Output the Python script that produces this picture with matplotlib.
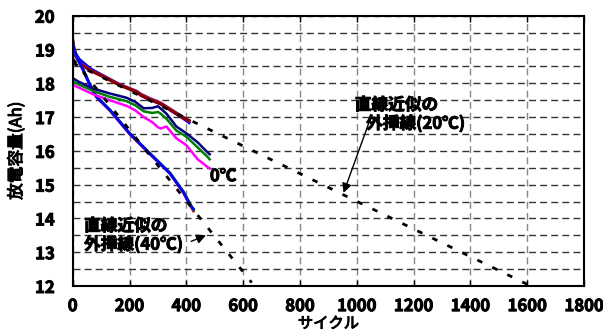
import matplotlib.pyplot as plt
import matplotlib.patheffects as pe
from matplotlib.ticker import MultipleLocator

plt.rcParams["font.family"] = ["Noto Sans CJK JP", "DejaVu Sans"]
plt.rcParams["font.weight"] = "bold"

# 20C group (four overlapping cells)
cyc20 = [0, 3, 10, 25, 60, 110, 165, 225, 240, 270, 310, 355, 385, 410]
cap20_purple = [19.25, 19.05, 18.85, 18.62, 18.42, 18.22, 17.97, 17.77, 17.68, 17.56, 17.42, 17.18, 17.02, 16.88]
cap20_blue = [19.15, 19.0, 18.88, 18.7, 18.45, 18.2, 17.95, 17.75, 17.64, 17.52, 17.38, 17.14, 16.98, 16.83]
cap20_red = [19.3, 19.05, 18.82, 18.6, 18.4, 18.19, 17.95, 17.75, 17.65, 17.53, 17.4, 17.16, 17.0, 16.88]
cap20_brown = [19.2, 19.0, 18.8, 18.58, 18.38, 18.18, 17.94, 17.74, 17.64, 17.52, 17.39, 17.15, 16.99, 16.9]

# 40C group
cyc40 = [0, 5, 15, 37, 61, 84, 132, 200, 272, 343, 390, 414, 425]
cap40_red = [19.3, 19.05, 18.75, 18.38, 17.93, 17.58, 17.18, 16.5, 15.9, 15.32, 14.75, 14.38, 14.22]
cap40_green = [19.2, 19.0, 18.76, 18.4, 17.95, 17.6, 17.2, 16.52, 15.92, 15.34, 14.78, 14.42, 14.25]
cap40_blue = [19.25, 19.0, 18.79, 18.39, 17.95, 17.6, 17.2, 16.52, 15.92, 15.33, 14.78, 14.39, 14.28]

# 0C group
cyc0 = [0, 20, 70, 130, 190, 220, 250, 280, 300, 310, 330, 365, 400, 440, 475, 482]
cap0_navy = [18.15, 18.05, 17.85, 17.7, 17.57, 17.45, 17.26, 17.27, 17.32, 17.25, 17.1, 16.72, 16.52, 16.25, 15.95, 15.9]
cap0_green = [18.05, 17.97, 17.78, 17.6, 17.47, 17.35, 17.17, 17.12, 17.15, 17.1, 16.95, 16.6, 16.42, 16.1, 15.82, 15.75]
cap0_magenta = [17.95, 17.88, 17.68, 17.5, 17.33, 17.2, 17.0, 16.85, 16.7, 16.66, 16.72, 16.37, 16.17, 15.75, 15.52, 15.48]

# linear-fit extrapolation lines
fit20_x = [0, 1600]
fit20_y = [18.6, 12.05]
fit40_x = [0, 630]
fit40_y = [18.72, 12.1]

bold = [pe.withStroke(linewidth=0.7, foreground="black")]

fig = plt.figure(figsize=(6.03, 3.34), dpi=100)
ax = fig.add_axes([0.1206, 0.1437, 0.848, 0.8093])

ax.plot(cyc20, cap20_purple, color="#800080", lw=2)
ax.plot(cyc20, cap20_blue, color="#0000ff", lw=2)
ax.plot(cyc20, cap20_red, color="#ff0000", lw=2)
ax.plot(cyc20, cap20_brown, color="#800000", lw=2)

ax.plot(cyc40, cap40_red, color="#ff0000", lw=2)
ax.plot(cyc40, cap40_green, color="#008000", lw=2)
ax.plot(cyc40, cap40_blue, color="#0000ff", lw=2)

ax.plot(cyc0, cap0_magenta, color="#ff00ff", lw=1.8)
ax.plot(cyc0, cap0_green, color="#008000", lw=1.8)
ax.plot(cyc0, cap0_navy, color="#000080", lw=1.8)

ax.plot(fit20_x, fit20_y, color="black", lw=2, ls=(0, (2, 4)), zorder=5)
ax.plot(fit40_x, fit40_y, color="black", lw=2, ls=(0, (2, 4)), zorder=5)

ax.set_xlim(0, 1800)
ax.set_ylim(12, 20)
ax.xaxis.set_major_locator(MultipleLocator(200))
ax.yaxis.set_major_locator(MultipleLocator(1))
ax.yaxis.set_minor_locator(MultipleLocator(0.5))

ax.grid(axis="y", which="both", color="#333333", ls=(0, (5, 3)), lw=1)
ax.grid(axis="x", which="major", color="#888888", ls=(0, (5, 3)), lw=1)
ax.tick_params(axis="both", which="both", direction="in", labelsize=12)
ax.tick_params(axis="y", which="both", length=0, pad=13)
ax.tick_params(axis="x", length=4, width=1, pad=8, top=True)
for lab in ax.get_xticklabels() + ax.get_yticklabels():
    lab.set_path_effects(bold)
for s in ax.spines.values():
    s.set_linewidth(1.5)

ax.set_xlabel("サイクル", fontsize=11, labelpad=0, path_effects=bold)
ax.set_ylabel("放電容量(Ah)", fontsize=12, labelpad=7, path_effects=bold)

ax.text(483, 15.25, "0℃", fontsize=12, va="center", ha="left", path_effects=bold)

ax.text(40, 13.5, "直線近似の\n外挿線(40℃)", fontsize=12,
        va="center", ha="left", linespacing=1.05, path_effects=bold)
ax.annotate("", xy=(478, 13.53), xytext=(408, 13.29),
            arrowprops=dict(arrowstyle="-|>", color="black", lw=1, mutation_scale=14))

ax.text(993, 17.08, "直線近似の\n   外挿線(20℃)", fontsize=12,
        va="center", ha="left", linespacing=1.05, path_effects=bold)
ax.annotate("", xy=(950, 14.68), xytext=(1055, 17.12),
            arrowprops=dict(arrowstyle="-|>", color="black", lw=1, mutation_scale=14))

fig.savefig("out.png", dpi=100)
